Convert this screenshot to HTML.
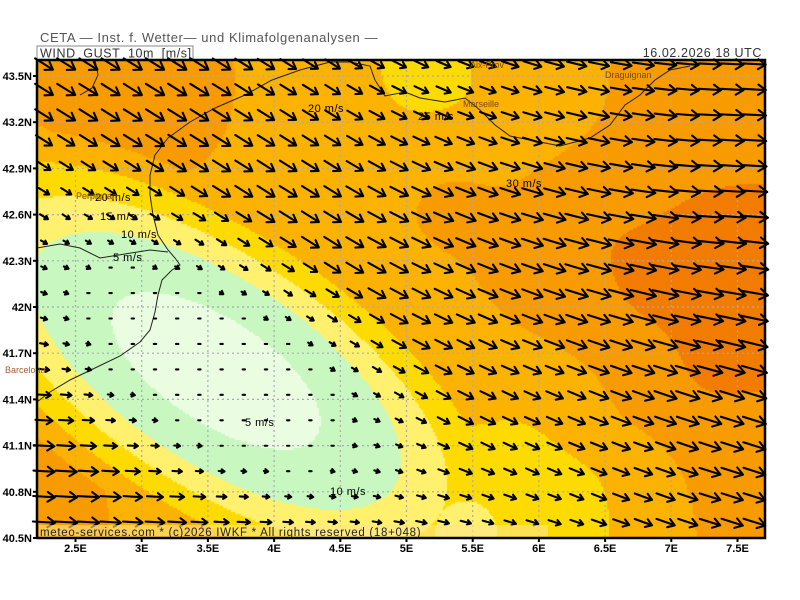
<!DOCTYPE html>
<html><head><meta charset="utf-8"><style>
body{margin:0;background:#fff;width:800px;height:600px;overflow:hidden;position:relative;font-family:"Liberation Sans",sans-serif}
#c{position:absolute;left:37px;top:60px}
svg{position:absolute;left:0;top:0}
</style></head><body>
<canvas id="c" width="728" height="478"></canvas>
<svg id="s" width="800" height="600" xmlns="http://www.w3.org/2000/svg" font-family="Liberation Sans, sans-serif">
<text x="40" y="42" font-size="13" fill="#555" letter-spacing="0.6">CETA — Inst. f. Wetter— und Klimafolgenanalysen —</text>
<rect x="37" y="46" width="156" height="14" fill="#fff" stroke="#888" stroke-width="1"/>
<text x="40" y="57.5" font-size="12.5" fill="#333" letter-spacing="0.6">WIND_GUST_10m_[m/s]</text>
<line x1="193" y1="59.5" x2="765" y2="59.5" stroke="#999"/>
<text x="762" y="57" font-size="12.5" fill="#333" text-anchor="end" letter-spacing="0.6">16.02.2026 18 UTC</text>
<g id="grid" stroke="#a8a8b8" stroke-width="1.2" stroke-dasharray="2,3" fill="none"></g>
<g id="coast" fill="none" stroke="#222" stroke-width="1">
<path d="M330,62 L300,70 L272,80 L245,95 L215,108 L190,122 L168,138 L155,155 L150,175 L150,195 L153,215 L158,235 L168,250 L175,258 L180,265 L172,270 L162,280 L158,295 L155,312 L150,330 L140,342 L120,356 L95,368 L70,380 L50,392 L37,402"/>
<path d="M37,248 L60,244 L80,248 L100,258 L125,254 L150,250 L168,252"/>
<path d="M95,60 L98,75 L92,88 L80,95"/>
<path d="M330,62 L350,62 L370,66 L375,80 L385,96 L405,92 L420,98 L445,102 L465,98 L480,110 L495,125 L510,136 L530,140 L560,146 L590,138 L610,125 L625,105 L640,95 L655,80 L670,70 L690,66"/>
</g>
<g id="arr" stroke="#000" stroke-width="2.1" fill="none" stroke-linecap="round" stroke-linejoin="round"></g>
<g font-size="11" fill="#000" letter-spacing="0.5">
<text x="308" y="112">20 m/s</text><text x="418" y="120">25 m/s</text><text x="506" y="187">30 m/s</text>
<text x="95" y="201">20 m/s</text><text x="100" y="220">15 m/s</text><text x="121" y="238">10 m/s</text>
<text x="113" y="261">5 m/s</text><text x="245" y="426">5 m/s</text><text x="330" y="495">10 m/s</text>
</g>
<g font-size="9" fill="#7a4a00">
<text x="463" y="107">Marseille</text><text x="605" y="78">Draguignan</text><text x="470" y="68">Aix-Prov</text>
<text x="76" y="199">Perpignan</text><text x="5" y="373" fill="#a06030">Barcelona</text>
</g>
<rect x="39" y="525" width="509" height="13" fill="#ffe68a" opacity="0.6"/>
<text x="40" y="536" font-size="11.5" fill="#222" letter-spacing="0.7">meteo-services.com * (c)2026 IWKF * All rights reserved (18+048)</text>
<rect x="37" y="60" width="728" height="478" fill="none" stroke="#000" stroke-width="2.5"/>
<g id="ax" font-size="11" font-weight="bold" fill="#000"></g>
</svg>
<script>
var P=[[100,130,26],[60,90,26],[180,90,27],[420,80,17],[470,95,19],[330,108,21],[560,100,24],[680,80,26],[740,120,28],
[740,250,35],[650,280,33],[600,250,31],[700,380,32],[740,470,28],[650,500,24],[620,420,28],[530,300,26],[450,200,27],[300,200,25],[200,160,25],[40,200,21],
[60,520,28],[160,500,24],[200,515,21],[260,530,19],[40,450,25],[470,520,11],[560,510,13],[600,470,18],[560,440,21],[400,300,24],[470,400,21],[520,470,15],[760,530,28],[740,330,34]];
var ca=Math.cos(33*Math.PI/180),sa=Math.sin(33*Math.PI/180);
function bg(x,y){var n=0,d=0;for(var i=0;i<P.length;i++){var dx=x-P[i][0],dy=y-P[i][1],r=dx*dx+dy*dy+2500,w=1/Math.pow(r,1.4);n+=w*P[i][2];d+=w;}return n/d;}
function sp(x,y){var dx=x-215,dy=y-370,u=dx*ca+dy*sa,v=-dx*sa+dy*ca,r=Math.sqrt(u*u/52900+v*v/10000);
var sl=r<0.93?1+10.1*Math.pow(r,1.42):10+22*(r-0.93);return Math.min(sl,bg(x,y));}
function col(s){return s<5?[235,253,225]:s<10?[200,248,192]:s<15?[255,240,110]:s<20?[253,219,0]:s<25?[251,178,0]:s<30?[247,155,0]:[242,124,0];}
var cv=document.getElementById('c'),cx=cv.getContext('2d'),im=cx.createImageData(728,478);
for(var y=0;y<478;y+=2)for(var x=0;x<728;x+=2){var c=col(sp(x+37,y+60));for(var a=0;a<2;a++)for(var b=0;b<2;b++){var k=((y+a)*728+x+b)*4;im.data[k]=c[0];im.data[k+1]=c[1];im.data[k+2]=c[2];im.data[k+3]=255;}}
cx.putImageData(im,0,0);
var ns="http://www.w3.org/2000/svg",g=document.getElementById('grid'),ax=document.getElementById('ax');
function el(p,t,a){var e=document.createElementNS(ns,t);for(var k in a)e.setAttribute(k,a[k]);p.appendChild(e);return e;}
var lats=["43.5N","43.2N","42.9N","42.6N","42.3N","42N","41.7N","41.4N","41.1N","40.8N","40.5N"];
for(var i=0;i<11;i++){var yy=76+i*46.2;if(i<10)el(g,'line',{x1:37,x2:765,y1:yy,y2:yy});
el(ax,'line',{x1:33,x2:37,y1:yy,y2:yy,stroke:'#000','stroke-width':2});var t=el(ax,'text',{x:32,y:yy+4,'text-anchor':'end'});t.textContent=lats[i];}
var lons=["2.5E","3E","3.5E","4E","4.5E","5E","5.5E","6E","6.5E","7E","7.5E"];
for(var i=0;i<11;i++){var xx=75.5+i*66.2;el(g,'line',{x1:xx,x2:xx,y1:60,y2:538});
el(ax,'line',{x1:xx,x2:xx,y1:538,y2:542,stroke:'#000','stroke-width':2});var t=el(ax,'text',{x:xx,y:552,'text-anchor':'middle'});t.textContent=lons[i];}
function cl(v){return Math.max(0,Math.min(1,v));}
var A=document.getElementById('arr'),d="";
for(var r=0;r<19;r++)for(var q=0;q<33;q++){var X=44+q*22.2,Y=64+r*25.45,s=sp(X,Y);
var fx=1-0.9*cl((X-330)/380)*(1-0.5*cl((Y-200)/200));
var fy=1-0.9*cl((Y-300-(X-200)*0.5)/170);
var th=32*fx*fy*Math.PI/180,L=0.92*s-2.5;
var ux=Math.cos(th),uy=Math.sin(th);
if(L<4){d+="M"+(X-1.2)+","+Y+"h2.4";continue;}
var x0=X-L/2*ux,y0=Y-L/2*uy,x1=X+L/2*ux,y1=Y+L/2*uy,h=Math.max(3.5,Math.min(9.5,L*0.4));
var a1=th+2.55,a2=th-2.55;
d+="M"+x0.toFixed(1)+","+y0.toFixed(1)+"L"+x1.toFixed(1)+","+y1.toFixed(1)+"M"+(x1+h*Math.cos(a1)).toFixed(1)+","+(y1+h*Math.sin(a1)).toFixed(1)+"L"+x1.toFixed(1)+","+y1.toFixed(1)+"L"+(x1+h*Math.cos(a2)).toFixed(1)+","+(y1+h*Math.sin(a2)).toFixed(1);}
el(A,'path',{d:d});
</script>
</body></html>
